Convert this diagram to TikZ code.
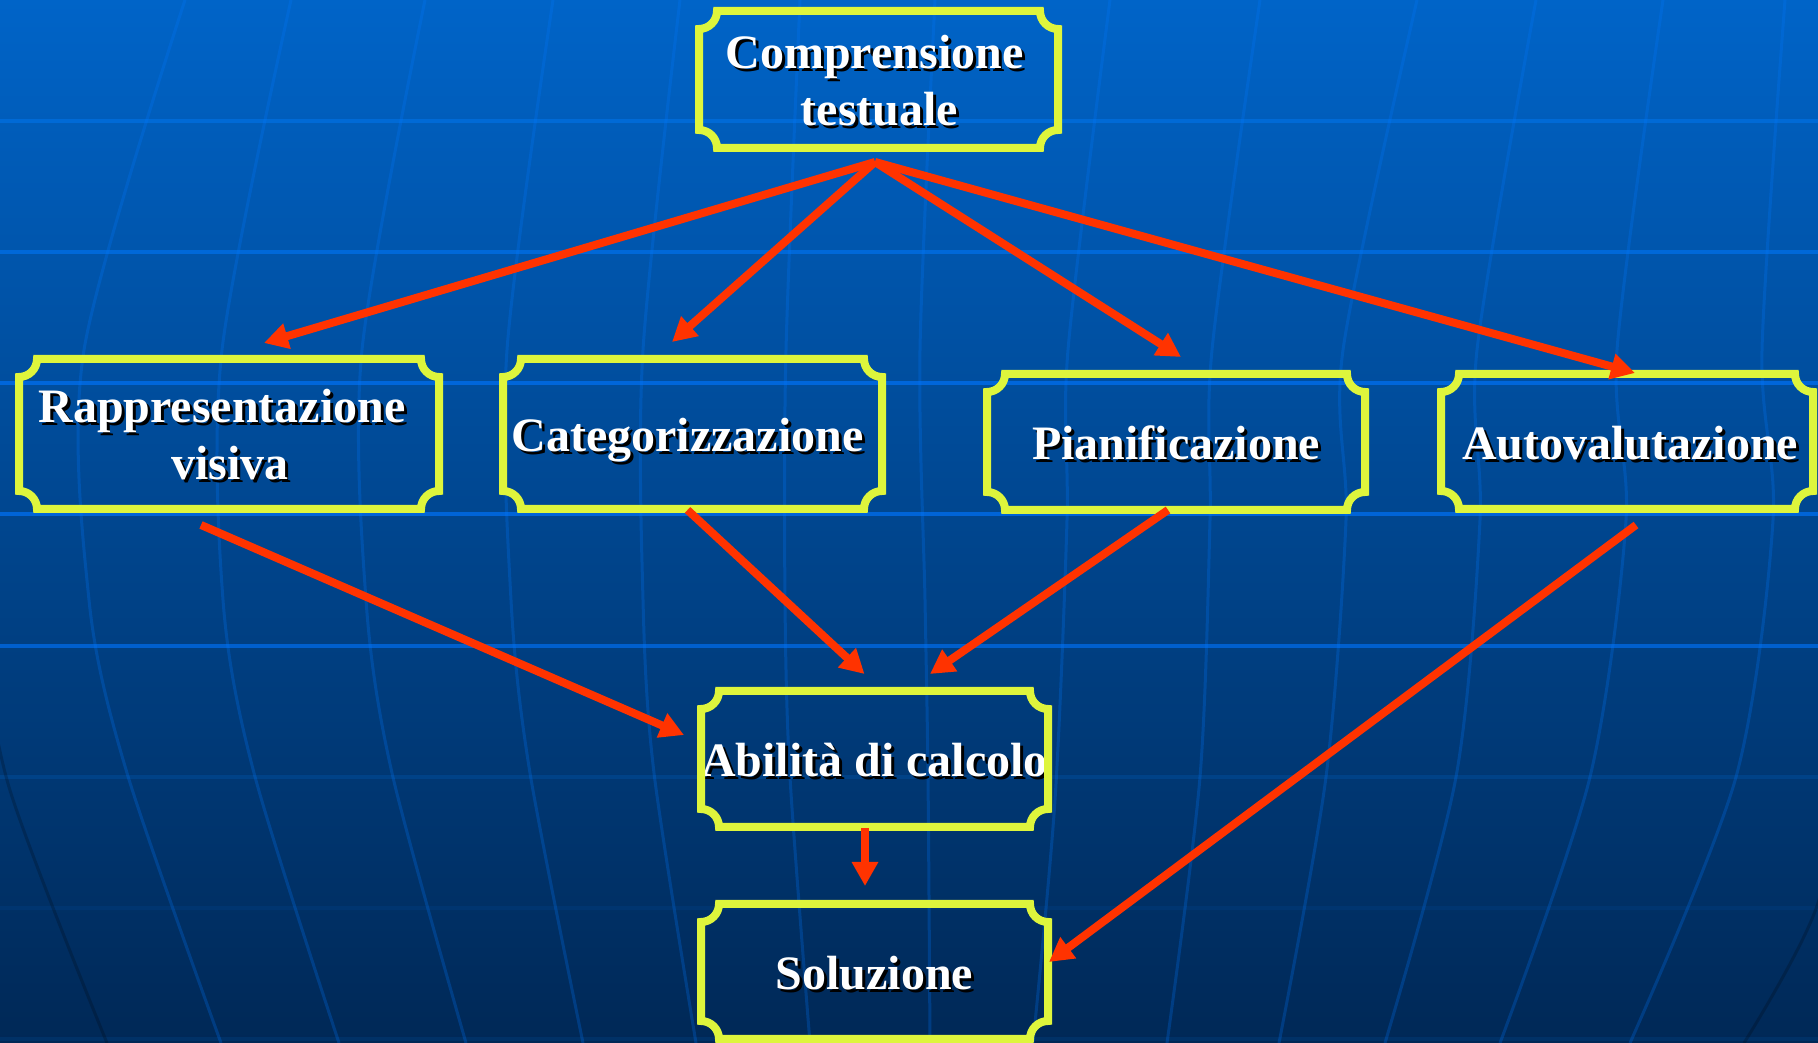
\documentclass[tikz,border=0pt]{standalone}
\usepackage{fontspec}
\setmainfont{Liberation Serif}
\usetikzlibrary{arrows.meta,calc}
\definecolor{plq}{RGB}{222,245,60}
\definecolor{arr}{RGB}{255,51,0}
\definecolor{bgtop}{RGB}{0,100,200}
\definecolor{bgmid}{RGB}{0,78,158}
\definecolor{bgbot}{RGB}{0,40,86}
\definecolor{merc}{RGB}{0,120,255}
\newcommand\shtxt[1]{\leavevmode\rlap{\hspace{3pt}\raisebox{-3pt}{\color{black}#1}}#1}
\newcommand\plaquebox[1]{\draw[plaque] ([yshift=-18pt]#1.north west) arc[start angle=270,end angle=360,radius=18pt] -- ([xshift=-18pt]#1.north east) arc[start angle=180,end angle=270,radius=18pt] -- ([yshift=18pt]#1.south east) arc[start angle=90,end angle=180,radius=18pt] -- ([xshift=18pt]#1.south west) arc[start angle=0,end angle=90,radius=18pt] -- cycle;}
\begin{document}
\begin{tikzpicture}[x=1pt,y=1pt,
  box/.style={inner sep=0pt, outer sep=0pt, text=white, font=\fontsize{48}{57}\selectfont\bfseries, align=center},
  oneline/.style={text height=36pt, text depth=0pt},
  plaque/.style={draw=plq, line width=8pt},
  link/.style={draw=arr, line width=8pt, -{Triangle[length=24pt,width=25pt]}},
  hline/.style={line width=3.5pt},
  mer/.style={line width=3pt, draw=merc, draw opacity=0.25},
  merdark/.style={line width=3pt, draw=black, draw opacity=0.2}
]
\useasboundingbox (0,0) rectangle (1818,1043);
\shade[top color=bgtop, middle color=bgmid, bottom color=bgbot] (0,0) rectangle (1818,1043);
\begin{scope}
\clip (0,0) rectangle (1818,1043);
% horizontal grid lines
\draw[hline, draw={rgb,255:red,0;green,106;blue,214}] (0,922) -- (1818,922);
\draw[hline, draw={rgb,255:red,0;green,104;blue,216}] (0,791) -- (1818,791);
\draw[hline, draw={rgb,255:red,0;green,102;blue,218}] (0,660) -- (1818,660);
\draw[hline, draw={rgb,255:red,0;green,100;blue,215}] (0,529) -- (1818,529);
\draw[hline, draw={rgb,255:red,0;green,95;blue,205}] (0,397) -- (1818,397);
\draw[hline, draw={rgb,255:red,0;green,66;blue,135}] (0,266) -- (1818,266);
\draw[hline, draw={rgb,255:red,0;green,53;blue,112}] (0,135) -- (1818,135);
\draw[hline, draw={rgb,255:red,0;green,49;blue,102}] (0,4) -- (1818,4);
% meridians
\draw[mer] plot[smooth] coordinates {(185,1043) (84,693) (89,443) (127,270) (221,0)};
\draw[mer] plot[smooth] coordinates {(291,1043) (222,693) (223,443) (254,270) (339,0)};
\draw[mer] plot[smooth] coordinates {(425,1043) (362,693) (366,443) (392,270) (466,0)};
\draw[mer] plot[smooth] coordinates {(553,1043) (507,693) (511,443) (530,270) (583,0)};
\draw[mer] plot[smooth] coordinates {(680,1043) (643,693) (643,443) (654,270) (696,0)};
\draw[mer] plot[smooth] coordinates {(800,1043) (786,693) (785,443) (790,266) (810,0)};
\draw[mer] plot[smooth] coordinates {(935,1043) (920,693) (925,443) (928,266) (930,0)};
\draw[mer] plot[smooth] coordinates {(1110,1043) (1068,693) (1067,523) (1055,243) (1033,0)};
\draw[mer] plot[smooth] coordinates {(1260,1043) (1212,693) (1210,523) (1200,266) (1167,0)};
\draw[mer] plot[smooth] coordinates {(1417,1043) (1343,693) (1346,523) (1326,266) (1279,0)};
\draw[mer] plot[smooth] coordinates {(1536,1043) (1477,693) (1480,523) (1456,266) (1385,0)};
\draw[mer] plot[smooth] coordinates {(1663,1043) (1617,693) (1626,523) (1590,266) (1500,0)};
\draw[mer] plot[smooth] coordinates {(1785,1043) (1762,693) (1773,523) (1736,266) (1630,0)};
\draw[merdark] plot[smooth] coordinates {(1850,330) (1818,140) (1744,0)};
\draw[merdark] plot[smooth] coordinates {(-25,443) (9,256) (107,0)};
\end{scope}
% nodes
\node[box, minimum width=359pt, minimum height=137pt] (comp) at (878.5,963.5) {\rule{0pt}{38pt}\shtxt{Comprensione}\hspace*{8pt}\\\hspace*{2pt}\shtxt{testuale}};
\node[box, minimum width=420pt, minimum height=150pt] (rapp) at (229,609) {\rule{0pt}{38pt}\shtxt{Rappresentazione}\hspace*{14pt}\\\hspace*{2pt}\shtxt{visiva}};
\node[box, oneline, minimum width=379pt, minimum height=150pt] (cat) at (692.5,609) {\shtxt{Categorizzazione}\hspace*{10pt}};
\node[box, oneline, minimum width=378pt, minimum height=136pt] (pian) at (1176,601) {\shtxt{Pianificazione}};
\node[box, oneline, minimum width=372pt, minimum height=135pt] (auto) at (1627,601.5) {\hspace*{6pt}\shtxt{Autovalutazione}};
\node[box, oneline, minimum width=347pt, minimum height=136pt] (abil) at (874.5,284) {\shtxt{Abilità di calcolo}};
\node[box, oneline, minimum width=347pt, minimum height=135pt] (sol) at (874.5,71.5) {\shtxt{Soluzione}};
\foreach \n in {comp,rapp,cat,pian,auto,abil,sol} {\plaquebox{\n}}
% connectors
\coordinate (hub) at ($(comp.south)+(-3.5,-14)$);
\draw[link] (hub) -- ($(rapp.north)+(35,16)$);
\draw[link] (hub) -- ($(cat.north)+(-20.5,17)$);
\draw[link] (hub) -- ($(pian.north)+(5,17)$);
\draw[link] (hub) -- ($(auto.north)+(8,1)$);
\draw[link] ($(rapp.south)+(-28,-16)$) -- ($(abil.west)+(-17,24)$);
\draw[link] ($(cat.south)+(-5,-1)$) -- ($(abil.north)+(-10,17)$);
\draw[link] ($(pian.south)+(-8,0)$) -- ($(abil.north)+(55.5,17)$);
\draw[link] ($(auto.south)+(9,-16)$) -- ($(sol.east)+(1,9.5)$);
\draw[link] ($(abil.south)+(-9.5,-1)$) -- ($(sol.north)+(-9.5,18)$);
\end{tikzpicture}
\end{document}
